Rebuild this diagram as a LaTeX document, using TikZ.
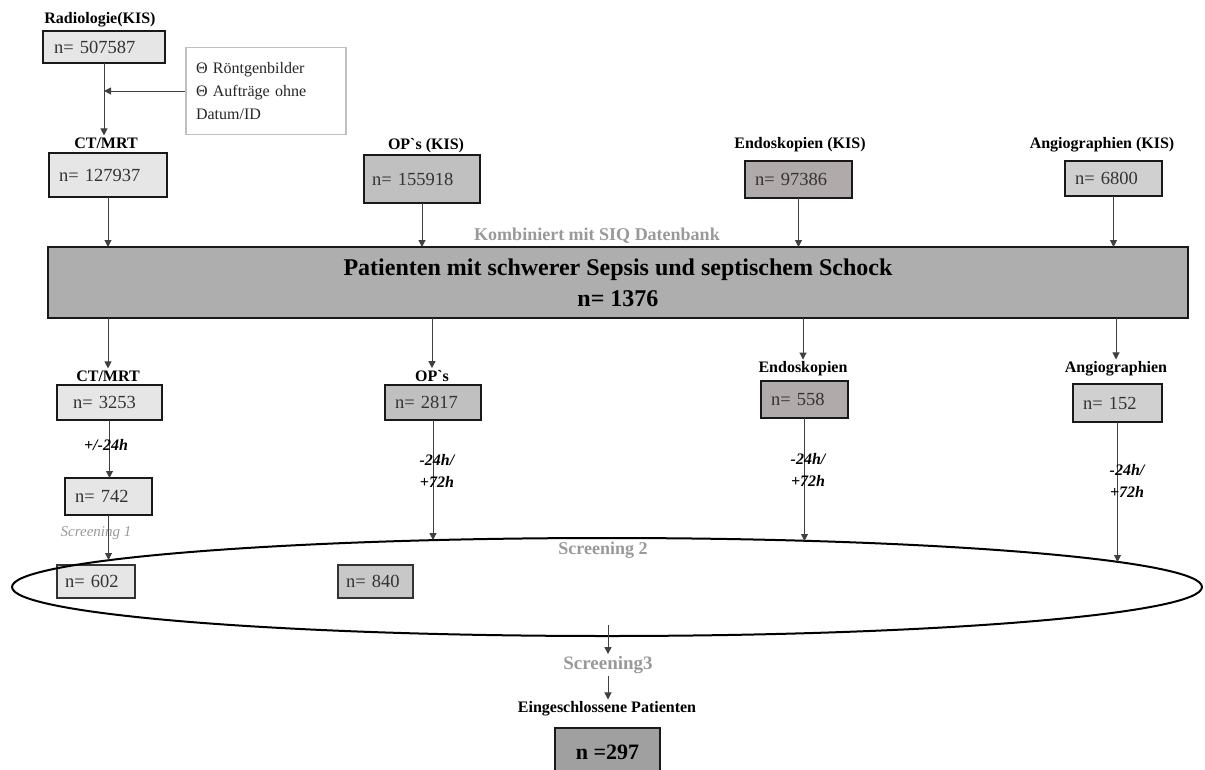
\documentclass[tikz,border=0pt]{standalone}
\usepackage{fontspec}
\setmainfont{Liberation Serif}[Ligatures=TeXOff]
\usetikzlibrary{arrows.meta,shapes.geometric}
\definecolor{cLight}{HTML}{E6E6E6}
\definecolor{cOP}{HTML}{C0C0C0}
\definecolor{cOPb}{HTML}{C8C8C8}
\definecolor{cEndo}{HTML}{B0AAAA}
\definecolor{cAngio}{HTML}{D0D0D0}
\definecolor{cMain}{HTML}{AEAEAE}
\definecolor{cFin}{HTML}{A0A0A0}
\definecolor{cGrayText}{HTML}{999999}
\newcommand\mybox[8]{%
  \pgfmathsetmacro\bw{#4-#2}\pgfmathsetmacro\bh{#5-#3}\pgfmathsetmacro\tw{#4-#2-2*#6}%
  \node[nbox, fill=#7, minimum width=\bw pt, minimum height=\bh pt, text width=\tw pt, inner xsep=#6pt, inner ysep=0pt] (#1) at ({(#2+#4)/2},{(#3+#5)/2}) {#8};}
\begin{document}
\begin{tikzpicture}[x=1pt,y=-1pt,
  nbox/.style={draw=black!90, line width=2.4pt, outer sep=0pt, font=\fontsize{18.5}{20}\selectfont, text=black!80, align=left},
  lbl/.style={font=\bfseries\fontsize{16}{18}\selectfont, inner sep=2pt},
  arr/.style={draw=black!75, line width=1pt, -{Triangle[width=7pt,length=7pt]}},
  tlab/.style={font=\bfseries\itshape\fontsize{16}{22}\selectfont, align=center, inner sep=0pt},
  glab/.style={text=cGrayText, font=\bfseries\fontsize{18}{20}\selectfont, inner sep=2pt}]
\useasboundingbox (0,0) rectangle (1205,769);
\clip (0,0) rectangle (1205,769);

% top row labels
\node[lbl] (lr1) at (100,20) {Radiologie(KIS)};
\node[lbl] (lc1) at (106,143) {CT/MRT};
\node[lbl] (lo1) at (426,146) {OP`s (KIS)};
\node[lbl] (le1) at (800,145) {Endoskopien (KIS)};
\node[lbl] (la1) at (1102,145) {Angiographien (KIS)};

% top row boxes
\mybox{r1}{43}{31}{165}{63}{11}{cLight}{n= 507587}
\mybox{c1}{49}{153}{167}{197}{10}{cLight}{n= 127937}
\mybox{o1}{364}{155}{480}{203}{8}{cOP}{n= 155918}
\mybox{e1}{745}{161}{852}{198}{10}{cEndo}{n= 97386}
\mybox{a1}{1065}{161}{1162}{196}{10}{cAngio}{n= 6800}

% side box
\node[draw=black!25, line width=1.8pt, fill=white, minimum width=160pt, minimum height=87pt,
      text width=140pt, inner xsep=10pt, align=left, font=\fontsize{16}{23}\selectfont, text=black!85]
      (side) at (266,91) {Θ Röntgenbilder\\Θ Aufträge ohne\\Datum/ID};

\coordinate (j) at (r1.south |- side.west);
\draw[arr] (r1.south) -- (r1.south |- lc1.north);
\draw[arr] (side.west) -- (j);

% combined
\node[glab] (kom) at (597,236) {Kombiniert mit SIQ Datenbank};
\node[nbox, line width=2.8pt, fill=cMain, minimum width=1140pt, minimum height=71pt, align=center,
      font=\bfseries\fontsize{24}{31}\selectfont, text=black] (main) at (618,282.5)
      {Patienten mit schwerer Sepsis und septischem Schock\\n= 1376};

\draw[arr] (c1.south) -- (c1.south |- main.north);
\draw[arr] (o1.south) -- (o1.south |- main.north);
\draw[arr] (e1.south) -- (e1.south |- main.north);
\draw[arr] (a1.south) -- (a1.south |- main.north);

% second row
\node[lbl] (lc2) at (108,376) {CT/MRT};
\node[lbl] (lo2) at (432,376) {OP`s};
\node[lbl] (le2) at (803,369) {Endoskopien};
\node[lbl] (la2) at (1116,369) {Angiographien};

\mybox{c2}{57}{385}{162}{420}{16}{cLight}{n= 3253}
\mybox{o2}{385}{385}{481}{420}{10}{cOP}{n= 2817}
\mybox{e2}{761}{381}{848}{418}{10}{cEndo}{n= 558}
\mybox{a2}{1073}{384}{1162}{422}{10}{cAngio}{n= 152}

\draw[arr] (main.south -| lc2) -- (lc2.north);
\draw[arr] (main.south -| lo2) -- (lo2.north);
\draw[arr] (main.south -| le2) -- (le2.north);
\draw[arr] (main.south -| la2) -- (la2.north);

% CT/MRT branch
\mybox{c3}{65}{478}{152}{515}{10}{cLight}{n= 742}
\draw[arr] (c2.south) -- (c2.south |- c3.north);
\node[tlab] (t1) at (106,445) {+/-24h};
\node[text=cGrayText, font=\itshape\fontsize{15}{18}\selectfont, inner sep=0pt] (s1) at (96,533) {Screening 1};

% ellipse and inner boxes
\node[nbox, line width=2pt, fill=cLight, minimum width=78pt, minimum height=33pt, text width=62pt, inner xsep=8pt, inner ysep=0pt, draw=black!80] (c4) at (96,581.5) {n= 602};
\node[nbox, line width=2pt, fill=cOPb, minimum width=75pt, minimum height=33pt, text width=59pt, inner xsep=8pt, inner ysep=0pt, draw=black!80] (o4) at (375.5,581.5) {n= 840};
\node[draw=black, line width=2pt, ellipse, minimum width=1190pt, minimum height=98pt, inner sep=0pt] (scr) at (607,587) {};

\coordinate (ec) at (108.5,560);
\coordinate (eo) at (433,540);
\coordinate (ee) at (804.5,541);
\coordinate (ea) at (1117.5,562);
\draw[arr] (c3.south) -- (ec);
\draw[arr] (o2.south) -- (eo);
\draw[arr] (e2.south) -- (ee);
\draw[arr] (a2.south) -- (ea);
\node[tlab] (t2) at (437,471) {-24h/\\+72h};
\node[tlab] (t3) at (808,470) {-24h/\\+72h};
\node[tlab] (t4) at (1127,481) {-24h/\\+72h};
\node[glab] (s2) at (603,550) {Screening 2};

% bottom
\coordinate (eb) at (608,625);
\node[glab, font=\bfseries\fontsize{19}{20}\selectfont] (s3) at (608,665) {Screening3};
\node[lbl] (ein) at (607,709) {Eingeschlossene Patienten};
\draw[arr] (eb) -- (eb |- s3.north);
\draw[arr] (s3.south) -- (s3.south |- ein.north);
\node[nbox, line width=2.6pt, fill=cFin, minimum width=105pt, minimum height=48pt, align=center,
      font=\bfseries\fontsize{22}{24}\selectfont, text=black] (fin) at (607.5,752) {n =297};
\end{tikzpicture}
\end{document}
